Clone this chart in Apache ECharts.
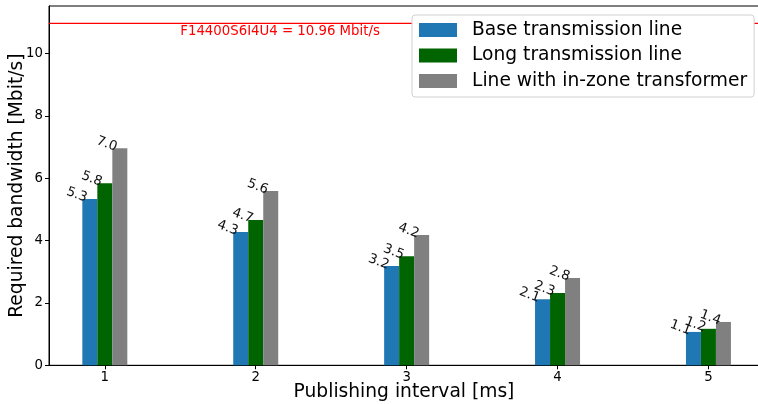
<!DOCTYPE html>
<html><head><meta charset="utf-8">
<script src="https://cdn.jsdelivr.net/npm/echarts@6/dist/echarts.min.js"></script>
<style>html,body{margin:0;padding:0;background:#fff}#c{width:758px;height:404px}</style>
</head><body><div id="c"></div>
<script>
const intervals = [1, 2, 3, 4, 5];
const seriesNames = ['Base transmission line', 'Long transmission line', 'Line with in-zone transformer'];
const baseLine = [5.33, 4.27, 3.18, 2.12, 1.07];
const longLine = [5.84, 4.66, 3.50, 2.32, 1.17];
const transformerLine = [6.96, 5.59, 4.18, 2.80, 1.39];
const limitValue = 10.96;
const limitText = 'F14400S6I4U4 = 10.96 Mbit/s';
const limitTextX = 1.5;
const yTicks = [0, 2, 4, 6, 8, 10];
const xRange = [0.63, 5.335];

const colors = ['#1f77b4', '#006400', '#808080'];
const font = 'DejaVu Sans';
const chart = echarts.init(document.getElementById('c'), null, {renderer: 'canvas'});

function barSeries(name, vals, color) {
  return {
    name: name, type: 'bar', barWidth: 15, barGap: '0%',
    itemStyle: {color: color},
    data: vals.map((v, i) => [intervals[i], v]),
    label: {
      show: true, position: ['50%', 0], align: 'center', verticalAlign: 'middle',
      rotate: -20, offset: [-13.7, 0.5],
      fontFamily: font, fontSize: 13.3, color: '#111',
      formatter: p => p.value[1].toFixed(1)
    }
  };
}

chart.setOption({
  animation: false,
  textStyle: {fontFamily: font},
  grid: {left: 49, right: -1, top: 6, bottom: 38.7, containLabel: false, outerBoundsMode: 'none',
    show: true, borderColor: '#000', borderWidth: 1, backgroundColor: 'transparent'},
  legend: {
    orient: 'vertical', left: 412, top: 15, z: 100, zlevel: 1,
    backgroundColor: '#fff', borderColor: '#d0d0d0', borderWidth: 1, borderRadius: 3,
    padding: [5.5, 7, 6.5, 7], itemGap: 6.5, itemWidth: 38, itemHeight: 14, icon: 'rect',
    textStyle: {fontFamily: font, fontSize: 18.67, color: '#000', padding: [0, 0, 0, 10]},
    data: seriesNames
  },
  xAxis: {
    type: 'value', min: xRange[0], max: xRange[1],
    name: 'Publishing interval [ms]', nameLocation: 'middle', nameGap: 17, nameMoveOverlap: false,
    nameTextStyle: {fontFamily: font, fontSize: 18.67, color: '#000'},
    axisLine: {show: true, onZero: false, lineStyle: {color: '#000', width: 1}},
    axisTick: {show: true, length: 4, customValues: intervals, lineStyle: {color: '#000'}},
    axisLabel: {customValues: intervals, margin: 6, fontFamily: font, fontSize: 13.3, color: '#000'},
    splitLine: {show: false}
  },
  yAxis: {
    type: 'value', min: 0, max: 11.52,
    name: 'Required bandwidth [Mbit/s]', nameLocation: 'middle', nameGap: 22.5, nameMoveOverlap: false,
    nameTextStyle: {fontFamily: font, fontSize: 18.67, color: '#000'},
    axisLine: {show: true, lineStyle: {color: '#000', width: 1}},
    axisTick: {show: true, length: 4, customValues: yTicks, lineStyle: {color: '#000'}},
    axisLabel: {customValues: yTicks, margin: 6, fontFamily: font, fontSize: 13.3, color: '#000'},
    splitLine: {show: false}
  },
  series: [
    barSeries(seriesNames[0], baseLine, colors[0]),
    barSeries(seriesNames[1], longLine, colors[1]),
    barSeries(seriesNames[2], transformerLine, colors[2]),
    {
      name: 'limit', type: 'line', silent: true, symbol: 'none', z: 1,
      data: [[xRange[0], limitValue], [xRange[1], limitValue]],
      lineStyle: {color: '#ff0000', width: 1.2}, itemStyle: {color: '#ff0000'},
      markPoint: {
        symbol: 'circle', symbolSize: 0,
        data: [{coord: [limitTextX, limitValue]}],
        label: {show: true, position: [0, 2], align: 'left', verticalAlign: 'top',
          fontFamily: font, fontSize: 13.3, color: '#ff0000', formatter: limitText}
      }
    }
  ]
});
</script></body></html>
